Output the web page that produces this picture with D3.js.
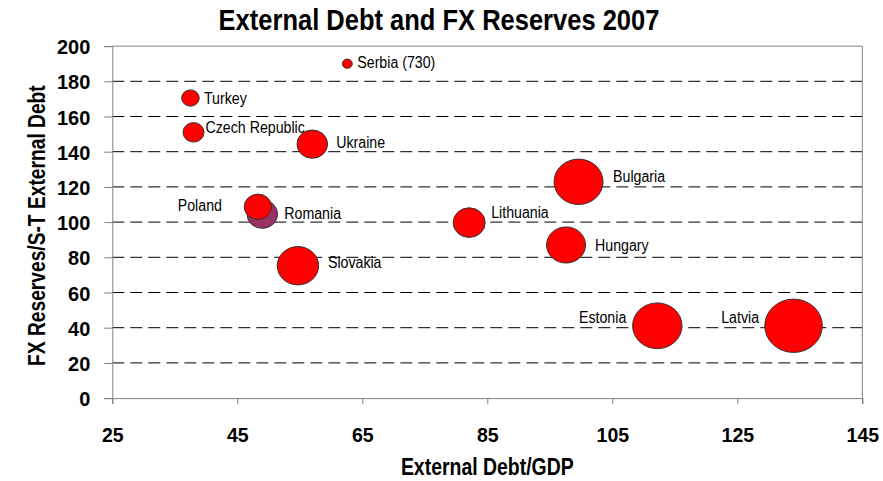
<!DOCTYPE html>
<html>
<head>
<meta charset="utf-8">
<script src="https://cdn.jsdelivr.net/npm/d3@7"></script>
<style>
  html, body { margin: 0; padding: 0; background: #fff; }
  svg { display: block; }
  text { font-family: "Liberation Sans", Arial, sans-serif; }
</style>
</head>
<body>
<svg id="chart" width="883" height="481"></svg>
<script>
// External debt vs. FX reserve cover, 2007
const countries = ["Latvia", "Estonia", "Bulgaria", "Slovakia", "Hungary", "Lithuania",
                   "Ukraine", "Romania", "Poland", "Czech Republic", "Turkey", "Serbia"];
const debtToGDP = [134.0, 112.2, 99.6, 54.7, 97.6, 82.1, 57.0, 49.0, 48.3, 38.0, 37.5, 62.6];
const reservesToSTDebt = [41.1, 41.1, 122.9, 75.2, 87.0, 99.7, 144.3, 104.5, 108.7, 151.0, 170.5, 730];
const bubbleSize = [100, 73.6, 72.4, 51.7, 45.8, 30.9, 28.2, 28.2, 22.6, 13.3, 9.3, 3.0];

const xTicks = [25, 45, 65, 85, 105, 125, 145];
const yTicks = [0, 20, 40, 60, 80, 100, 120, 140, 160, 180, 200];
const yCap = 190; // values above this are pinned near the top and annotated

const svg = d3.select("#chart");
const W = 883, H = 481;
const margin = { left: 112.3, right: W - 862.3, top: 46.1, bottom: H - 398.1 };

const x = d3.scaleLinear().domain([25, 145]).range([margin.left, W - margin.right]);
const y = d3.scaleLinear().domain([0, 200]).range([H - margin.bottom, margin.top]);
const r = d3.scaleSqrt().domain([0, 100]).range([0, 28.8]);
const aspect = 1.08; // bubbles are drawn slightly wider than tall

const data = countries.map((c, i) => ({
  name: c, xv: debtToGDP[i], yv: reservesToSTDebt[i], size: bubbleSize[i]
}));

// narrow the glyphs of a text selection by a given factor
function condense(sel, factor) {
  sel.each(function () {
    const n = this.getComputedTextLength();
    this.setAttribute("textLength", (n * factor).toFixed(2));
    this.setAttribute("lengthAdjust", "spacingAndGlyphs");
  });
}

// label placement relative to each bubble centre (px)
const labelPos = {
  "Serbia": [10, -1, "start"],
  "Turkey": [13.5, 0, "start"],
  "Czech Republic": [12, -5, "start"],
  "Ukraine": [24, -2, "start"],
  "Poland": [-36, -2, "end"],
  "Romania": [22, -1, "start"],
  "Slovakia": [30, -4, "start"],
  "Lithuania": [22, -10.5, "start"],
  "Bulgaria": [34.5, -5.5, "start"],
  "Hungary": [29, 0, "start"],
  "Estonia": [-31, -8.5, "end"],
  "Latvia": [-34.5, -8.5, "end"]
};

// title
svg.append("text")
  .attr("x", 439).attr("y", 30)
  .attr("text-anchor", "middle")
  .attr("font-size", 30).attr("font-weight", "bold")
  .text("External Debt and FX Reserves 2007")
  .call(condense, 0.85);

// dashed gridlines
svg.append("g").selectAll("line")
  .data(yTicks.filter(t => t > 0 && t < 200))
  .join("line")
  .attr("x1", x(25)).attr("x2", x(145))
  .attr("y1", d => y(d)).attr("y2", d => y(d))
  .attr("stroke", "#000").attr("stroke-width", 1)
  .attr("stroke-dasharray", "12,6");

// plot border (top and right)
svg.append("path")
  .attr("d", `M${x(25)},${y(200)}H${x(145)}V${y(0)}`)
  .attr("fill", "none").attr("stroke", "#808080").attr("stroke-width", 1);

// axes
const xAxis = d3.axisBottom(x).tickValues(xTicks).tickSize(6).tickPadding(0);
const yAxis = d3.axisLeft(y).tickValues(yTicks).tickSize(8).tickPadding(14);

const gx = svg.append("g").attr("transform", `translate(0,${y(0)})`).call(xAxis);
const gy = svg.append("g").attr("transform", `translate(${x(25)},0)`).call(yAxis);
[gx, gy].forEach(g => {
  g.select(".domain").attr("stroke", "#808080");
  g.selectAll(".tick line").attr("stroke", "#808080");
  g.selectAll(".tick text")
    .attr("font-family", "Liberation Sans, Arial, sans-serif")
    .attr("font-size", 21).attr("font-weight", "bold").attr("fill", "#000");
});
gx.selectAll(".tick text").attr("y", 43.5).attr("dy", null);
gy.selectAll(".tick text").attr("dy", "0.36em");
gx.selectAll(".tick text").call(condense, 0.93);
gy.selectAll(".tick text").call(condense, 0.95);

// axis titles
svg.append("text")
  .attr("x", x(85)).attr("y", 475)
  .attr("text-anchor", "middle")
  .attr("font-size", 23).attr("font-weight", "bold")
  .text("External Debt/GDP")
  .call(condense, 0.845);

svg.append("text")
  .attr("transform", `translate(45,${y(98)}) rotate(-90)`)
  .attr("text-anchor", "middle")
  .attr("font-size", 23).attr("font-weight", "bold")
  .text("FX Reserves/S-T External Debt")
  .call(condense, 0.835);

// labels sit underneath the bubbles
svg.append("g").selectAll("text")
  .data(data)
  .join("text")
  .attr("x", d => x(d.xv) + labelPos[d.name][0])
  .attr("y", d => y(Math.min(d.yv, yCap)) + labelPos[d.name][1])
  .attr("dy", "0.36em")
  .attr("text-anchor", d => labelPos[d.name][2])
  .attr("font-size", 16)
  .attr("fill", "#000")
  .text(d => d.yv > yCap ? `${d.name} (${d.yv})` : d.name)
  .call(condense, 0.886);

// bubbles
svg.append("g").selectAll("ellipse")
  .data(data)
  .join("ellipse")
  .attr("cx", d => x(d.xv))
  .attr("cy", d => y(Math.min(d.yv, yCap)))
  .attr("rx", d => r(d.size))
  .attr("ry", d => r(d.size) / aspect)
  .attr("fill", d => d.name === "Romania" ? "#993366" : "#ff0000")
  .attr("stroke", "#333")
  .attr("stroke-width", 1);
</script>
</body>
</html>
